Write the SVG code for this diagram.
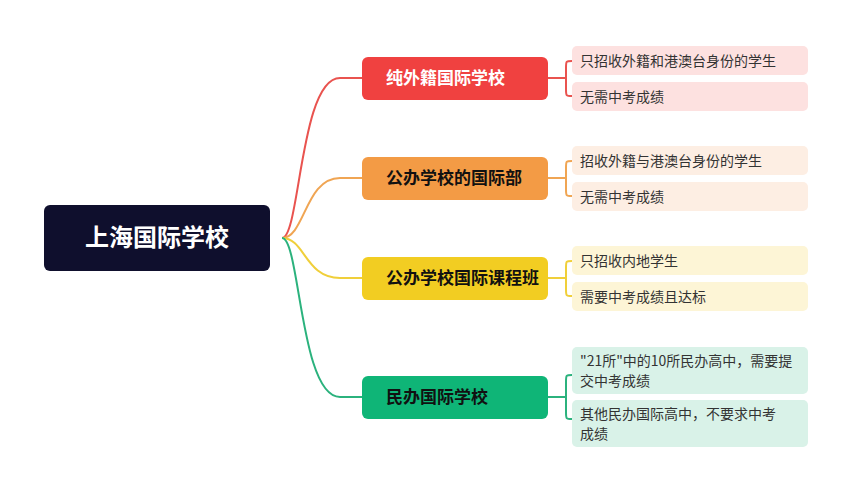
<svg xmlns="http://www.w3.org/2000/svg" width="856" height="478" viewBox="0 0 856 478">
<style>
.b{font-family:"Noto Sans CJK SC",sans-serif;font-size:17px;font-weight:bold}
.l{font-family:"Noto Sans CJK SC",sans-serif;font-size:14px;fill:#333}
.c{fill:none;stroke-width:2}
</style>
<rect width="856" height="478" fill="#fff"/>
<g id="connectors">
<path class="c" stroke="#e9534f" d="M282,238 C300,238 300,78 340,78 L362,78"/>
<path class="c" stroke="#f0a553" d="M282,238 C305,238 305,178 340,178 L362,178"/>
<path class="c" stroke="#f0cf3a" d="M282,238 C305,238 305,278 340,278 L362,278"/>
<path class="c" stroke="#2bb27d" d="M282,238 C300,238 300,397 340,397 L362,397"/>
<path class="c" stroke="#e9534f" d="M548,78 H566 M572,61 C566,61 566,61 566,68 V89 C566,96 566,96 572,96"/>
<path class="c" stroke="#f0a553" d="M548,178 H566 M572,161 C566,161 566,161 566,168 V189 C566,196 566,196 572,196"/>
<path class="c" stroke="#f0cf3a" d="M548,278 H566 M572,261 C566,261 566,261 566,268 V289 C566,296 566,296 572,296"/>
<path class="c" stroke="#2bb27d" d="M548,397 H566 M572,375 C566,375 566,375 566,382 V412 C566,419 566,419 572,419"/>
</g>
<g id="root"><rect x="44" y="205" width="226" height="66" rx="6" fill="#0f0f2d"/><text x="157" y="246" text-anchor="middle" font-family="Noto Sans CJK SC,sans-serif" font-size="24" font-weight="bold" fill="#fff">上海国际学校</text></g>
<g id="n1"><rect x="362" y="57" width="186" height="43" rx="6" fill="#f04140"/><text x="386" y="84" class="b" fill="#fff">纯外籍国际学校</text></g>
<g id="n2"><rect x="362" y="157" width="186" height="43" rx="6" fill="#f39b45"/><text x="386" y="184" class="b" fill="#111">公办学校的国际部</text></g>
<g id="n3"><rect x="362" y="257" width="186" height="43" rx="6" fill="#f2cd22"/><text x="386" y="284" class="b" fill="#111">公办学校国际课程班</text></g>
<g id="n4"><rect x="362" y="376" width="186" height="43" rx="6" fill="#0fb577"/><text x="386" y="403" class="b" fill="#111">民办国际学校</text></g>
<g id="l1"><rect x="572" y="46" width="236" height="29" rx="5" fill="#fde1e0"/><text x="580" y="66" class="l">只招收外籍和港澳台身份的学生</text></g>
<g id="l2"><rect x="572" y="82" width="236" height="29" rx="5" fill="#fde1e0"/><text x="580" y="102" class="l">无需中考成绩</text></g>
<g id="l3"><rect x="572" y="146" width="236" height="29" rx="5" fill="#fdeee3"/><text x="580" y="166" class="l">招收外籍与港澳台身份的学生</text></g>
<g id="l4"><rect x="572" y="182" width="236" height="29" rx="5" fill="#fdeee3"/><text x="580" y="202" class="l">无需中考成绩</text></g>
<g id="l5"><rect x="572" y="246" width="236" height="29" rx="5" fill="#fdf5d6"/><text x="580" y="266" class="l">只招收内地学生</text></g>
<g id="l6"><rect x="572" y="282" width="236" height="29" rx="5" fill="#fdf5d6"/><text x="580" y="302" class="l">需要中考成绩且达标</text></g>
<g id="l7"><rect x="572" y="347" width="236" height="47" rx="5" fill="#d9f2e8"/><text x="580" y="366" class="l">"21所"中的10所民办高中，需要提</text><text x="580" y="386" class="l">交中考成绩</text></g>
<g id="l8"><rect x="572" y="400" width="236" height="47" rx="5" fill="#d9f2e8"/><text x="580" y="419" class="l">其他民办国际高中，不要求中考</text><text x="580" y="439" class="l">成绩</text></g>
</svg>
